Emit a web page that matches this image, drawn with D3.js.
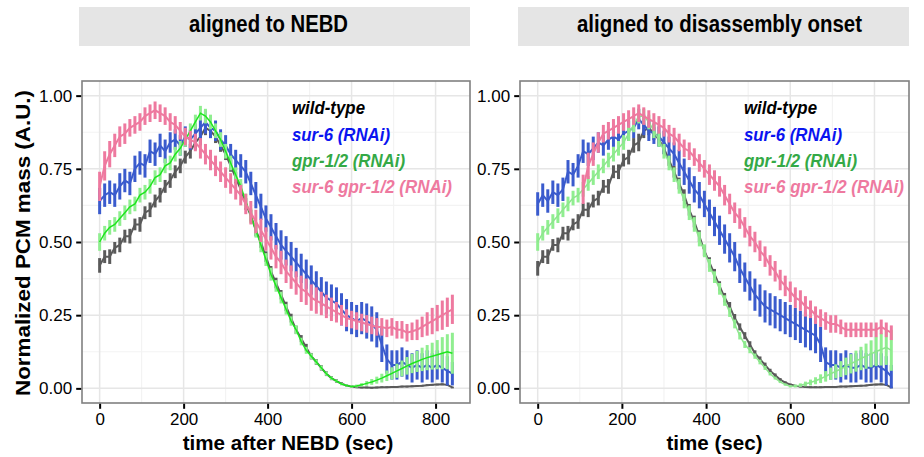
<!DOCTYPE html>
<html>
<head>
<meta charset="utf-8">
<script src="https://cdn.jsdelivr.net/npm/d3@7"></script>
<style>
  body { margin: 0; background: #fff; }
  text { font-family: "Liberation Sans", Arial, sans-serif; }
</style>
</head>
<body>
<script>
// sample times (sec), 12 s steps
var times = [0,12,24,36,48,60,72,84,96,108,120,132,144,156,168,180,192,204,216,228,
  240,252,264,276,288,300,312,324,336,348,360,372,384,396,408,420,432,444,456,468,
  480,492,504,516,528,540,552,564,576,588,600,612,624,636,648,660,672,684,696,708,
  720,732,744,756,768,780,792,804,816,828,840];

//*********** panel 1 : aligned to NEBD *****************
var wtNebd = [0.42,0.45,0.45,0.48,0.49,0.52,0.52,0.56,0.56,0.60,
  0.61,0.64,0.66,0.69,0.71,0.74,0.76,0.79,0.81,0.84,
  0.86,0.89,0.88,0.86,0.83,0.80,0.76,0.72,0.68,0.63,
  0.59,0.54,0.50,0.45,0.40,0.36,0.32,0.28,0.24,0.20,
  0.17,0.14,0.11,0.09,0.07,0.05,0.035,0.025,0.016,0.010,
  0.006,0.004,0.003,0.003,0.002,0.003,0.004,0.004,0.005,0.005,
  0.006,0.006,0.007,0.008,0.009,0.011,0.012,0.013,0.014,0.012,0.003];
var wtNebdErr = [.025,.022,.025,.02,.025,.022,.025,.02,.025,.022,
  .025,.022,.025,.022,.025,.022,.025,.022,.025,.025,
  .03,.025,.025,.022,.022,.02,.02,.02,.02,.02,
  .02,.02,.02,.018,.018,.018,.016,.016,.015,.014,
  .012,.012,.011,.01,.009,.008,.007,.006,.005,.004,
  .003,.003,.003,.003,.003,.003,.003,.003,.003,.003,
  .003,.003,.003,.003,.003,.003,.003,.003,.003,.003,.003];

var sur6Nebd = [0.64,0.66,0.67,0.66,0.69,0.71,0.70,0.75,0.77,0.76,
  0.81,0.80,0.83,0.81,0.84,0.85,0.83,0.86,0.85,0.87,
  0.89,0.91,0.89,0.88,0.85,0.83,0.80,0.78,0.76,0.74,
  0.70,0.66,0.62,0.58,0.55,0.52,0.49,0.47,0.45,0.43,
  0.41,0.39,0.37,0.35,0.33,0.31,0.30,0.29,0.27,0.25,
  0.24,0.23,0.24,0.23,0.22,0.20,0.15,0.10,0.08,0.08,
  0.09,0.08,0.07,0.08,0.07,0.08,0.07,0.08,0.07,0.06,0.05];
var sur6NebdErr = [.045,.04,.04,.04,.045,.04,.04,.045,.04,.04,
  .04,.04,.04,.04,.035,.035,.035,.035,.035,.035,
  .04,.04,.035,.035,.035,.035,.035,.035,.04,.04,
  .04,.045,.045,.045,.045,.045,.05,.05,.05,.05,
  .05,.05,.05,.05,.05,.055,.055,.055,.055,.055,
  .055,.055,.055,.06,.06,.06,.06,.05,.05,.05,
  .05,.05,.05,.05,.05,.05,.05,.05,.05,.05,.04];

var gprNebd = [0.50,0.53,0.55,0.56,0.58,0.60,0.62,0.63,0.66,0.67,
  0.69,0.72,0.73,0.76,0.77,0.80,0.82,0.85,0.88,0.91,
  0.94,0.93,0.91,0.88,0.85,0.81,0.77,0.73,0.69,0.64,
  0.59,0.54,0.49,0.44,0.39,0.35,0.31,0.27,0.23,0.20,
  0.16,0.13,0.11,0.09,0.07,0.05,0.035,0.025,0.015,0.01,
  0.006,0.008,0.012,0.017,0.022,0.028,0.035,0.043,0.051,0.06,
  0.068,0.077,0.085,0.092,0.099,0.105,0.11,0.115,0.12,0.125,0.12];
var gprNebdErr = [.03,.025,.025,.025,.025,.025,.025,.025,.025,.025,
  .025,.025,.025,.025,.025,.025,.025,.025,.025,.025,
  .025,.025,.025,.025,.025,.025,.025,.025,.025,.025,
  .025,.025,.025,.022,.022,.02,.02,.018,.016,.015,
  .013,.012,.01,.009,.008,.007,.006,.005,.004,.004,
  .004,.005,.006,.008,.01,.012,.015,.018,.021,.024,
  .027,.03,.033,.036,.04,.043,.046,.05,.055,.06,.07];

var dblNebd = [0.69,0.76,0.80,0.83,0.86,0.87,0.89,0.90,0.91,0.93,
  0.94,0.95,0.94,0.93,0.91,0.90,0.88,0.86,0.85,0.84,
  0.82,0.80,0.78,0.76,0.74,0.72,0.70,0.68,0.66,0.63,
  0.60,0.57,0.54,0.51,0.48,0.45,0.43,0.40,0.38,0.36,
  0.34,0.33,0.31,0.30,0.29,0.28,0.27,0.26,0.25,0.24,
  0.235,0.23,0.225,0.22,0.215,0.21,0.21,0.205,0.21,0.20,
  0.20,0.19,0.195,0.20,0.21,0.22,0.23,0.24,0.25,0.26,0.27];
var dblNebdErr = [.05,.05,.045,.04,.035,.035,.03,.03,.03,.03,
  .03,.03,.03,.03,.03,.03,.03,.03,.03,.03,
  .035,.035,.035,.035,.035,.035,.035,.035,.035,.035,
  .04,.04,.04,.04,.04,.04,.04,.04,.04,.04,
  .045,.045,.045,.045,.04,.04,.04,.035,.035,.03,
  .03,.03,.03,.03,.03,.03,.03,.03,.03,.03,
  .03,.03,.03,.035,.035,.04,.045,.045,.05,.05,.05];

//*********** panel 2 : aligned to disassembly onset *****************
var wtOnset = [0.41,0.45,0.45,0.49,0.49,0.53,0.53,0.56,0.57,0.61,
  0.61,0.64,0.65,0.69,0.69,0.74,0.74,0.78,0.79,0.83,
  0.84,0.88,0.89,0.87,0.85,0.82,0.78,0.74,0.70,0.66,
  0.61,0.57,0.52,0.47,0.43,0.39,0.35,0.31,0.28,0.24,
  0.21,0.18,0.15,0.12,0.10,0.08,0.06,0.045,0.03,0.02,
  0.013,0.009,0.006,0.005,0.004,0.004,0.004,0.005,0.005,0.005,
  0.006,0.006,0.007,0.008,0.009,0.01,0.012,0.013,0.014,0.012,0.003];
var wtOnsetErr = wtNebdErr.slice();

var sur6Onset = [0.63,0.66,0.64,0.67,0.66,0.68,0.74,0.73,0.76,0.81,
  0.80,0.82,0.84,0.83,0.85,0.86,0.85,0.87,0.88,0.89,
  0.92,0.90,0.88,0.87,0.86,0.84,0.82,0.80,0.77,0.74,
  0.71,0.68,0.66,0.63,0.60,0.57,0.54,0.51,0.48,0.45,
  0.41,0.38,0.35,0.32,0.30,0.28,0.27,0.26,0.25,0.24,
  0.23,0.22,0.21,0.20,0.19,0.18,0.15,0.09,0.08,0.08,
  0.07,0.08,0.07,0.07,0.08,0.07,0.07,0.08,0.07,0.06,0.04];
var sur6OnsetErr = [.04,.04,.04,.04,.04,.04,.04,.04,.04,.04,
  .04,.04,.035,.035,.035,.035,.035,.035,.035,.035,
  .035,.035,.035,.035,.035,.04,.04,.04,.045,.045,
  .045,.045,.045,.045,.045,.05,.05,.05,.05,.05,
  .05,.05,.05,.055,.055,.055,.055,.055,.055,.055,
  .055,.055,.055,.06,.06,.06,.06,.05,.05,.05,
  .05,.05,.05,.05,.05,.05,.05,.05,.05,.05,.04];

var gprOnset = [0.50,0.53,0.55,0.57,0.59,0.61,0.63,0.65,0.66,0.68,
  0.70,0.72,0.74,0.76,0.78,0.80,0.82,0.84,0.87,0.90,
  0.93,0.93,0.91,0.88,0.85,0.81,0.77,0.73,0.69,0.64,
  0.60,0.56,0.51,0.47,0.42,0.38,0.34,0.30,0.26,0.22,
  0.18,0.15,0.13,0.11,0.09,0.07,0.05,0.035,0.022,0.013,
  0.007,0.008,0.011,0.015,0.02,0.026,0.033,0.041,0.05,0.058,
  0.066,0.075,0.084,0.093,0.102,0.11,0.118,0.126,0.133,0.14,0.13];
var gprOnsetErr = gprNebdErr.slice();

var dblOnset = [null,null,null,null,null,null,null,null,null,0.68,
  0.76,0.80,0.84,0.87,0.88,0.89,0.90,0.91,0.92,0.93,
  0.94,0.93,0.92,0.91,0.90,0.89,0.87,0.86,0.84,0.82,
  0.81,0.79,0.77,0.75,0.73,0.71,0.69,0.66,0.63,0.60,
  0.58,0.55,0.52,0.50,0.47,0.45,0.42,0.40,0.37,0.35,
  0.33,0.31,0.30,0.28,0.27,0.25,0.24,0.23,0.22,0.22,
  0.21,0.20,0.20,0.20,0.20,0.20,0.20,0.20,0.21,0.20,0.19];
var dblOnsetErr = [0,0,0,0,0,0,0,0,0,.05,
  .045,.04,.035,.03,.03,.03,.03,.03,.03,.03,
  .03,.03,.03,.03,.03,.03,.03,.03,.03,.03,
  .03,.03,.03,.03,.035,.035,.035,.035,.035,.035,
  .035,.035,.035,.035,.035,.035,.035,.035,.035,.035,
  .035,.035,.035,.035,.03,.03,.03,.03,.03,.03,
  .025,.025,.025,.025,.025,.025,.025,.025,.025,.025,.025];

var legendLabels = ["wild-type", "sur-6 (RNAi)", "gpr-1/2 (RNAi)", "sur-6 gpr-1/2 (RNAi)"];
var legendColors = ["#000000", "#0a14f0", "#34a946", "#ee799f"];
var barColors = ["#5a5a5a", "#3a5bcd", "#90ee90", "#ee799f"];
var xTicks = [0, 200, 400, 600, 800];
var yTicks = [0, 0.25, 0.5, 0.75, 1];

var width = 924, height = 457;
var svg = d3.select("body").append("svg")
    .attr("width", width)
    .attr("height", height);

var panelTop = 81, panelBottom = 403;
var panels = [
  {left: 82, right: 470, stripL: 79, stripR: 470, title: "aligned to NEBD", titleX: 268.5, titleW: 159,
   xlab: "time after NEBD (sec)", xlabX: 288, lineGreen: "#1ee61e",
   series: [[wtNebd, wtNebdErr], [sur6Nebd, sur6NebdErr], [gprNebd, gprNebdErr], [dblNebd, dblNebdErr]],
   legX: 292},
  {left: 520, right: 909, stripL: 518, stripR: 909, title: "aligned to disassembly onset", titleX: 719.5, titleW: 285,
   xlab: "time (sec)", xlabX: 714.5, lineGreen: "#8de68d",
   series: [[wtOnset, wtOnsetErr], [sur6Onset, sur6OnsetErr], [gprOnset, gprOnsetErr], [dblOnset, dblOnsetErr]],
   legX: 744}
];
var legendW = [73, 98, 113, 160];
var legendY = [114, 141, 167, 193];

var y = d3.scaleLinear().domain([-0.05, 1.05]).range([panelBottom, panelTop]);

panels.forEach(function(p) {
  var x = d3.scaleLinear().domain([-42, 882]).range([p.left, p.right]);

  // strip
  svg.append("rect")
      .attr("x", p.stripL).attr("y", 7)
      .attr("width", p.stripR - p.stripL).attr("height", 39)
      .attr("fill", "#e5e5e5");
  svg.append("text")
      .attr("x", p.titleX).attr("y", 32)
      .attr("text-anchor", "middle")
      .style("font-size", "23px").style("font-weight", "bold")
      .attr("textLength", p.titleW).attr("lengthAdjust", "spacingAndGlyphs")
      .text(p.title);

  // panel bg
  svg.append("rect")
      .attr("x", p.left).attr("y", panelTop)
      .attr("width", p.right - p.left).attr("height", panelBottom - panelTop)
      .attr("fill", "#fff");

  var g = svg.append("g");
  // minor grid
  [100, 300, 500, 700].forEach(function(v) {
    g.append("line").attr("x1", x(v)).attr("x2", x(v)).attr("y1", panelTop).attr("y2", panelBottom)
        .attr("stroke", "#f3f3f3").attr("stroke-width", 1.2);
  });
  [0.125, 0.375, 0.625, 0.875].forEach(function(v) {
    g.append("line").attr("x1", p.left).attr("x2", p.right).attr("y1", y(v)).attr("y2", y(v))
        .attr("stroke", "#f3f3f3").attr("stroke-width", 1.2);
  });
  // major grid
  xTicks.forEach(function(v) {
    g.append("line").attr("x1", x(v)).attr("x2", x(v)).attr("y1", panelTop).attr("y2", panelBottom)
        .attr("stroke", "#e6e6e6").attr("stroke-width", 1.5);
  });
  yTicks.forEach(function(v) {
    g.append("line").attr("x1", p.left).attr("x2", p.right).attr("y1", y(v)).attr("y2", y(v))
        .attr("stroke", "#e6e6e6").attr("stroke-width", 1.5);
  });

  // data: error bars then mean line, per series
  p.series.forEach(function(s, k) {
    var pts = times.map(function(t, i) { return {t: t, v: s[0][i], e: s[1][i]}; })
        .filter(function(d) { return d.v != null; });
    g.selectAll(null).data(pts).enter().append("line")
        .attr("x1", function(d) { return x(d.t); })
        .attr("x2", function(d) { return x(d.t); })
        .attr("y1", function(d) { return y(d.v - d.e); })
        .attr("y2", function(d) { return y(d.v + d.e); })
        .attr("stroke", barColors[k])
        .attr("stroke-width", 3);
    var line = d3.line().x(function(d) { return x(d.t); }).y(function(d) { return y(d.v); });
    g.append("path").datum(pts)
        .attr("d", line)
        .attr("fill", "none")
        .attr("stroke", k == 2 ? p.lineGreen : barColors[k])
        .attr("stroke-width", k == 2 ? 1.5 : 2);
  });

  // border
  svg.append("rect")
      .attr("x", p.left).attr("y", panelTop)
      .attr("width", p.right - p.left).attr("height", panelBottom - panelTop)
      .attr("fill", "none").attr("stroke", "#808080").attr("stroke-width", 1.6);

  // axes
  var yAxis = d3.axisLeft(y).tickValues(yTicks).tickSize(5).tickPadding(4)
      .tickFormat(d3.format(".2f"));
  var ya = svg.append("g").attr("transform", "translate(" + (p.left - 0.8) + ",0)").call(yAxis);
  var xAxis = d3.axisBottom(x).tickValues(xTicks).tickSize(5).tickPadding(4);
  var xa = svg.append("g").attr("transform", "translate(0," + (panelBottom + 0.8) + ")").call(xAxis);
  [ya, xa].forEach(function(a) {
    a.select(".domain").remove();
    a.selectAll(".tick line").attr("stroke", "#000").attr("stroke-width", 2);
    a.selectAll(".tick text").attr("fill", "#000")
        .style("font-size", "17px").style("font-family", "'Liberation Sans', Arial, sans-serif");
  });

  svg.append("text")
      .attr("x", p.xlabX).attr("y", 450)
      .attr("text-anchor", "middle")
      .style("font-size", "20.6px").style("font-weight", "bold")
      .text(p.xlab);

  // legend
  legendLabels.forEach(function(l, k) {
    svg.append("text")
        .attr("x", p.legX).attr("y", legendY[k])
        .style("font-size", "18.5px").style("font-weight", "bold").style("font-style", "italic")
        .attr("fill", legendColors[k])
        .attr("textLength", legendW[k]).attr("lengthAdjust", "spacingAndGlyphs")
        .text(l);
  });
});

svg.append("text")
    .attr("transform", "translate(30,243) rotate(-90)")
    .attr("text-anchor", "middle")
    .style("font-size", "20.6px").style("font-weight", "bold")
    .attr("textLength", 306).attr("lengthAdjust", "spacingAndGlyphs")
    .text("Normalized PCM mass (A.U.)");
</script>
</body>
</html>
